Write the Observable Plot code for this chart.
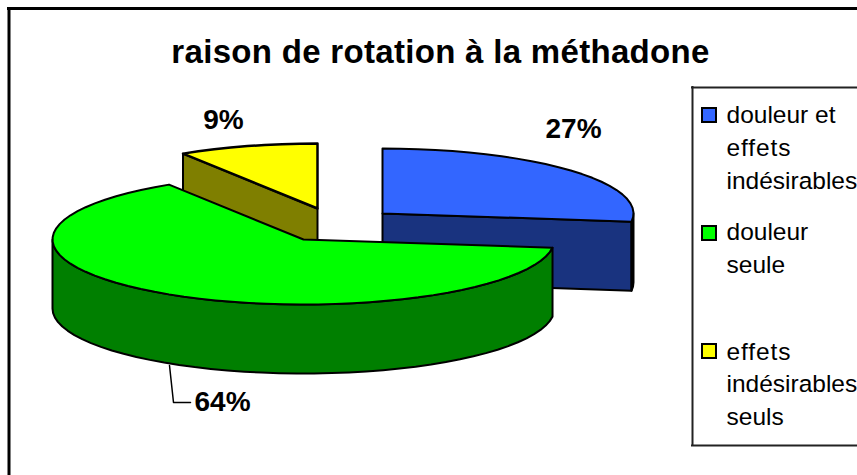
<!DOCTYPE html>
<html lang="fr">
<head>
<meta charset="utf-8">
<script src="https://cdn.jsdelivr.net/npm/d3@7"></script>
<script src="https://cdn.jsdelivr.net/npm/@observablehq/plot@0.6"></script>
<style>
html,body{margin:0;padding:0;background:#fff;overflow:hidden}
svg{display:block}
</style>
</head>
<body>
<div id="chart"></div>
<script>
const titleText = "raison de rotation à la méthadone";
const categories = ["douleur et effets indésirables", "douleur seule", "effets indésirables seuls"];
const values = [27, 64, 9];
const percentLabels = ["27%", "64%", "9%"];
const legendLines = [
  ["douleur et", "effets", "indésirables"],
  ["douleur", "seule"],
  ["effets", "indésirables", "seuls"]
];
const topColors = ["#3366FF", "#00FF00", "#FFFF00"];
const sideColors = ["#19337F", "#007F00", "#7F7F00"];

// Layout of the exploded 3-D pie
const width = 857, height = 475;
const rx = 251, ry = 65, depth = 69;
const centers = [[382, 213], [303, 239], [317, 208]];
const step = Math.PI / 45;

const arcs = d3.pie().sort(null)(values);
const rim = (c, a, dy = 0) => ({x: c[0] + rx * Math.sin(a), y: c[1] - ry * Math.cos(a) + dy});
function arcPts(c, a0, a1, dy = 0) {
  const n = Math.max(1, Math.round((a1 - a0) / step));
  return d3.range(n + 1).map(i => rim(c, a0 + (a1 - a0) * i / n, dy));
}
const apex = (c, dy = 0) => ({x: c[0], y: c[1] + dy});
const topFace = i => [apex(centers[i]), ...arcPts(centers[i], arcs[i].startAngle, arcs[i].endAngle)];
const cutFace = (i, a) => [apex(centers[i]), rim(centers[i], a), rim(centers[i], a, depth), apex(centers[i], depth)];
const sideFace = (i, a0, a1) => [...arcPts(centers[i], a0, a1), ...arcPts(centers[i], a0, a1, depth).reverse()];
const poly = (pts, fill, sw = 2) => Plot.line(pts, {
  x: "x", y: "y", fill, stroke: "black", strokeWidth: sw,
  strokeLinejoin: "round", curve: "linear-closed"
});

const legendX = 726, swatchX = [702, 716];
const legendY = [[115, 148, 181], [232, 265], [352, 384, 417]];
const swatchY = [[108, 122], [226, 240], [344, 358]];
const legendRows = legendLines.flatMap((ls, i) => ls.map((t, j) => ({t, y: legendY[i][j]})));
const swatches = categories.map((c, i) => ({c, i, y1: swatchY[i][0], y2: swatchY[i][1]}));
const labels = [
  {t: percentLabels[0], x: 573, y: 129},
  {t: percentLabels[1], x: 222, y: 402},
  {t: percentLabels[2], x: 223, y: 120}
];
const font = "Liberation Sans, Arial, sans-serif";

const plot = Plot.plot({
  width, height, margin: 0,
  x: {type: "linear", domain: [0, width], range: [0, width], axis: null},
  y: {type: "linear", domain: [0, height], range: [0, height], axis: null},
  style: {background: "#fff", fontFamily: font},
  marks: [
    // chart frame
    Plot.ruleY([8], {x1: 7, x2: width, stroke: "black", strokeWidth: 3}),
    Plot.ruleX([8.5], {y1: 7, y2: height, stroke: "black", strokeWidth: 3}),
    // blue slice
    poly(cutFace(0, arcs[0].endAngle), sideColors[0]),
    poly(sideFace(0, Math.PI / 2, arcs[0].endAngle), "black"),
    poly(topFace(0), topColors[0]),
    // yellow slice
    poly(cutFace(2, arcs[2].startAngle), sideColors[2]),
    poly(topFace(2), topColors[2], 2.5),
    // green slice
    poly(sideFace(1, arcs[1].startAngle, 3 * Math.PI / 2), sideColors[1]),
    poly(topFace(1), topColors[1]),
    // leader line
    Plot.line([{x: 169, y: 365}, {x: 173, y: 402}, {x: 190, y: 402}], {x: "x", y: "y", stroke: "black", strokeWidth: 1.5}),
    // title and percent labels
    Plot.text([titleText], {x: 440, y: 52, text: d => d, fontSize: 33, fontWeight: "bold", fill: "black"}),
    Plot.text(labels, {x: "x", y: "y", text: "t", fontSize: 28, fontWeight: "bold", fill: "black"}),
    // legend
    Plot.ruleY([87, 445], {x1: 691, x2: width, stroke: "#222", strokeWidth: 2}),
    Plot.ruleX([692], {y1: 86, y2: 446, stroke: "#222", strokeWidth: 2}),
    Plot.rect(swatches, {x1: swatchX[0], x2: swatchX[1], y1: "y1", y2: "y2", fill: d => topColors[d.i], stroke: "black", strokeWidth: 2}),
    Plot.text(legendRows, {x: legendX, y: "y", text: "t", textAnchor: "start", fontSize: 24.5, fill: "black"})
  ]
});
d3.select(plot).selectAll("text")
  .filter(function () { return this.textContent === titleText; })
  .style("letter-spacing", "0.31px");
d3.select(plot).selectAll("text")
  .filter(function () { return this.textContent === "effets"; })
  .style("letter-spacing", "0.9px");
document.getElementById("chart").append(plot);
</script>
</body>
</html>
